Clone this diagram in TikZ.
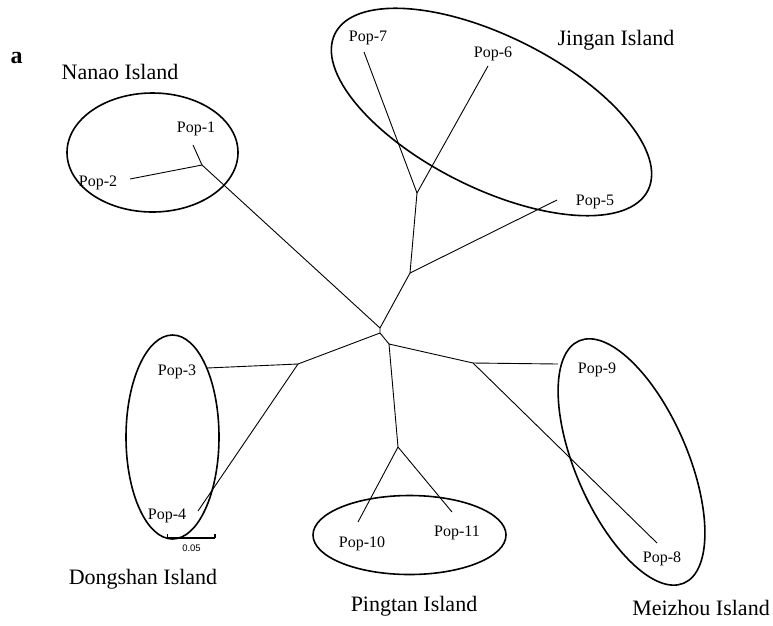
\documentclass[tikz,border=0pt]{standalone}
\usepackage{fontspec}
\setmainfont{Liberation Serif}
\newfontfamily\barfont{Liberation Sans}
\begin{document}
\begin{tikzpicture}[x=1pt,y=-1pt,
  branch/.style={line width=0.9pt, black},
  island/.style={line width=1.6pt, black},
  poplabel/.style={anchor=base, inner sep=0pt, font=\fontsize{16}{18}\selectfont},
  islandlabel/.style={anchor=base, inner sep=0pt, font=\fontsize{22}{24}\selectfont},
  barlabel/.style={anchor=base, inner sep=0pt, font=\barfont\fontsize{9.5}{10}\selectfont}]
\useasboundingbox (0,0) rectangle (773,625);

% tree coordinates
\coordinate (r1) at (380,328);
\coordinate (r2) at (380,333);
\coordinate (r3) at (389,344);
\coordinate (nj) at (202,165);
\coordinate (t1) at (193,145);
\coordinate (t2) at (130,179);
\coordinate (jA) at (410,273);
\coordinate (jB) at (417,193);
\coordinate (t7) at (364,52);
\coordinate (t6) at (488,66);
\coordinate (t5) at (557,200);
\coordinate (dj) at (298,364);
\coordinate (t3) at (207,368);
\coordinate (t4) at (198,511);
\coordinate (pj) at (398,447);
\coordinate (t10) at (358,522);
\coordinate (t11) at (452,512);
\coordinate (mj) at (473,363);
\coordinate (t9) at (558,364);
\coordinate (t8) at (657,543);

% branches
\draw[branch] (r1) -- (r2) -- (r3);
\draw[branch] (r1) -- (nj);
\draw[branch] (nj) -- (t1);
\draw[branch] (nj) -- (t2);
\draw[branch] (r1) -- (jA);
\draw[branch] (jA) -- (jB);
\draw[branch] (jB) -- (t7);
\draw[branch] (jB) -- (t6);
\draw[branch] (jA) -- (t5);
\draw[branch] (r2) -- (dj);
\draw[branch] (dj) -- (t3);
\draw[branch] (dj) -- (t4);
\draw[branch] (r3) -- (pj);
\draw[branch] (pj) -- (t10);
\draw[branch] (pj) -- (t11);
\draw[branch] (r3) -- (mj);
\draw[branch] (mj) -- (t9);
\draw[branch] (mj) -- (t8);

% island ellipses
\coordinate (cNan) at (152.5,152.5);
\coordinate (cJin) at (491.5,112);
\coordinate (cDon) at (172.5,437);
\coordinate (cPin) at (409.5,535);
\coordinate (cMei) at (631.5,462);
\draw[island] (cNan) ellipse [x radius=85.5pt, y radius=59.5pt];
\draw[island, rotate around={-26.6:(cJin)}] (cJin) ellipse [x radius=175pt, y radius=76pt];
\draw[island] (cDon) ellipse [x radius=46.5pt, y radius=102pt];
\draw[island] (cPin) ellipse [x radius=96.5pt, y radius=39.5pt];
\draw[island, rotate around={-66.6:(cMei)}] (cMei) ellipse [x radius=132pt, y radius=56pt];

% population labels
\node[poplabel] (p1) at (196,132.7) {Pop-1};
\node[poplabel] (p2) at (98,186.7) {Pop-2};
\node[poplabel] (p3) at (177,375) {Pop-3};
\node[poplabel] (p4) at (167,519) {Pop-4};
\node[poplabel] (p5) at (595,205) {Pop-5};
\node[poplabel] (p6) at (493,57) {Pop-6};
\node[poplabel] (p7) at (368,41) {Pop-7};
\node[poplabel] (p8) at (662,562) {Pop-8};
\node[poplabel] (p9) at (597,373) {Pop-9};
\node[poplabel] (p10) at (362,547) {Pop-10};
\node[poplabel] (p11) at (457,536) {Pop-11};

% island labels
\node[islandlabel] (lNan) at (120,79) {Nanao Island};
\node[islandlabel] (lJin) at (616,45) {Jingan Island};
\node[islandlabel] (lDon) at (143,584) {Dongshan Island};
\node[islandlabel] (lPin) at (414,611) {Pingtan Island};
\node[islandlabel] (lMei) at (701,615) {Meizhou Island};

% panel letter
\node[anchor=base, inner sep=0pt, font=\bfseries\fontsize{24}{26}\selectfont] (panel) at (16.7,63.3) {a};

% scale bar
\coordinate (sb1) at (167.3,538);
\coordinate (sb2) at (215,538);
\draw[line width=1.2pt] (sb1) -- (sb2);
\draw[line width=1.2pt] (sb1) -- ++(0,-4.5);
\draw[line width=1.2pt] (sb2) -- ++(0,-4.5);
\node[barlabel] (sbl) at (191.5,551) {0.05};
\end{tikzpicture}
\end{document}
